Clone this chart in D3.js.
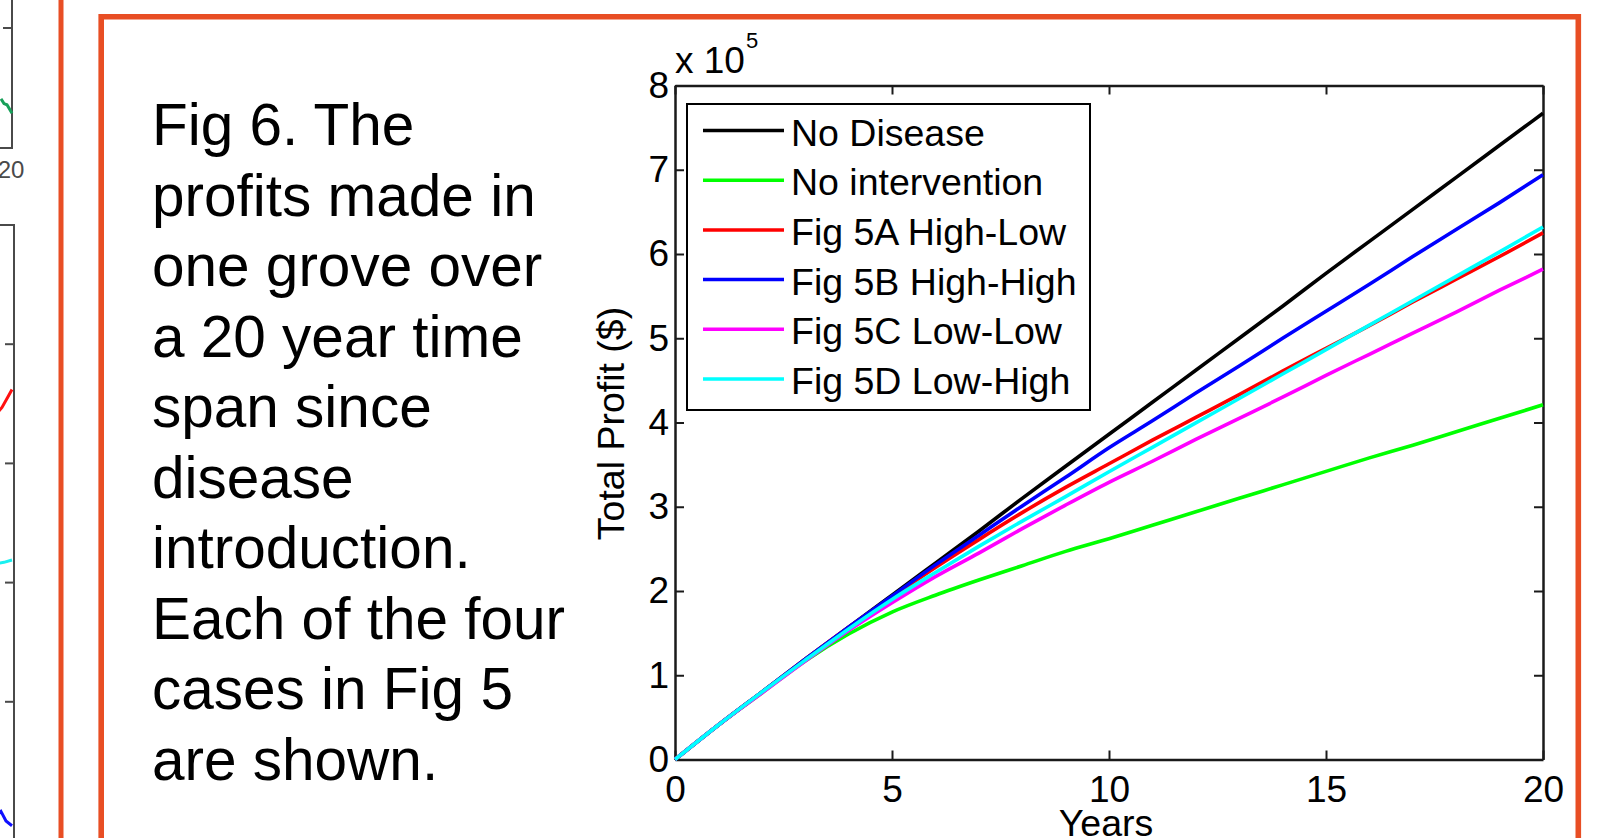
<!DOCTYPE html>
<html>
<head>
<meta charset="utf-8">
<script src="https://cdn.jsdelivr.net/npm/d3@7"></script>
<style>
  html, body { margin: 0; padding: 0; background: #fff; }
  svg { display: block; font-family: "Liberation Sans", Arial, Helvetica, sans-serif; }
</style>
</head>
<body>
<div id="chart"></div>
<script>
const W = 1605, H = 838;

// years since disease introduction
const years = d3.range(0, 21);

// total profit, in units of 1e5 $
const noDisease     = [0, 0.41, 0.80, 1.19, 1.57, 1.95, 2.33, 2.71, 3.10, 3.48, 3.86, 4.24, 4.62, 5.00, 5.38, 5.77, 6.15, 6.53, 6.91, 7.29, 7.67];
const noIntervention = [0, 0.41, 0.79, 1.17, 1.49, 1.75, 1.95, 2.13, 2.30, 2.47, 2.62, 2.78, 2.94, 3.10, 3.26, 3.42, 3.58, 3.73, 3.89, 4.05, 4.21];
const fig5A         = [0, 0.41, 0.80, 1.19, 1.57, 1.93, 2.28, 2.61, 2.93, 3.23, 3.51, 3.79, 4.06, 4.33, 4.61, 4.88, 5.15, 5.43, 5.70, 5.97, 6.25];
const fig5B         = [0, 0.41, 0.80, 1.19, 1.57, 1.94, 2.31, 2.66, 3.01, 3.35, 3.70, 4.02, 4.35, 4.67, 5.00, 5.32, 5.64, 5.97, 6.29, 6.61, 6.94];
const fig5C         = [0, 0.41, 0.79, 1.17, 1.53, 1.86, 2.17, 2.45, 2.74, 3.02, 3.29, 3.54, 3.80, 4.05, 4.30, 4.56, 4.81, 5.06, 5.31, 5.57, 5.82];
const fig5D         = [0, 0.41, 0.80, 1.18, 1.55, 1.90, 2.22, 2.53, 2.83, 3.12, 3.415, 3.705, 3.995, 4.285, 4.575, 4.865, 5.155, 5.445, 5.735, 6.025, 6.32];

const seriesNames  = ['No Disease', 'No intervention', 'Fig 5A High-Low', 'Fig 5B High-High', 'Fig 5C Low-Low', 'Fig 5D Low-High'];
const seriesValues = [noDisease, noIntervention, fig5A, fig5B, fig5C, fig5D];
const seriesColors = ['#000000', '#00ff00', '#ff0000', '#0000ff', '#ff00ff', '#00ffff'];

const xTicks = [0, 5, 10, 15, 20];
const yTicks = [0, 1, 2, 3, 4, 5, 6, 7, 8];

const caption = [
  'Fig 6. The', 'profits made in', 'one grove over', 'a 20 year time', 'span since',
  'disease', 'introduction.', 'Each of the four', 'cases in Fig 5', 'are shown.'
];

// bits of the neighbouring panels cut off at the left edge
const edgeTopGreen = [[19.45, 0.41], [19.6, 0.37], [19.75, 0.36], [20, 0.29]];
const edgeRed      = [[19.2, 3.41], [19.5, 3.47], [19.8, 3.56], [20, 3.62]];
const edgeCyan     = [[19.2, 2.16], [19.6, 2.17], [20, 2.19]];
const edgeBlue     = [[19.2, 0.04], [19.45, 0.08], [19.7, 0.0], [20, -0.04]];

const svg = d3.select('#chart').append('svg')
  .attr('width', W)
  .attr('height', H);

svg.append('rect').attr('width', W).attr('height', H).attr('fill', '#fff');

// neighbour panels
const edgeX = d3.scaleLinear().domain([0, 20]).range([-389, 12]);
const edgeTopY = d3.scaleLinear().domain([0, 1]).range([148, 28]);
const edgeY = d3.scaleLinear().domain([0, 5]).range([821, 225]);
const edgeLine = (ys) => d3.line().x(d => edgeX(d[0])).y(d => ys(d[1]));

const edge = svg.append('g').attr('stroke', '#4a4a4a').attr('stroke-width', 2).attr('fill', 'none');
edge.append('path').attr('d', `M0,${edgeTopY(0)}H${edgeX(20)}V0`);
edge.append('path').attr('d', `M${edgeX(20) - 9},${edgeTopY(1)}H${edgeX(20)}`);
edge.append('path').attr('d', `M0,${edgeY(5)}H${edgeX(20) + 2}V${H}`);
[1, 2, 3, 4].forEach(v => {
  edge.append('path').attr('d', `M${edgeX(20) - 7},${edgeY(v)}H${edgeX(20) + 2}`);
});
svg.append('text')
  .attr('x', 11).attr('y', 178)
  .attr('text-anchor', 'middle')
  .attr('font-size', 24)
  .attr('fill', '#4a4a4a')
  .text('20');

[[edgeTopGreen, edgeTopY, '#19a05a'], [edgeRed, edgeY, '#ff1010'], [edgeCyan, edgeY, '#19f0f0'], [edgeBlue, edgeY, '#1010ff']]
  .forEach(([data, ys, color]) => {
    svg.append('path')
      .datum(data)
      .attr('fill', 'none')
      .attr('stroke', color)
      .attr('stroke-width', 3)
      .attr('d', edgeLine(ys));
  });

// orange frames
const orange = '#e84e24';
svg.append('line')
  .attr('x1', 61).attr('x2', 61).attr('y1', 0).attr('y2', H)
  .attr('stroke', orange).attr('stroke-width', 5);
svg.append('path')
  .attr('d', `M101.2,${H + 10}V16.7H1578.3V${H + 10}`)
  .attr('fill', 'none')
  .attr('stroke', orange)
  .attr('stroke-width', 5.6);

// caption
svg.append('g')
  .selectAll('text')
  .data(caption)
  .join('text')
  .attr('x', 152)
  .attr('y', (d, i) => 145 + i * 70.5)
  .attr('font-size', 58.5)
  .attr('fill', '#000')
  .text(d => d);

// main plot
const plot = { left: 675, right: 1543, top: 85.5, bottom: 759.5 };
const x = d3.scaleLinear().domain([0, 20]).range([plot.left, plot.right]);
const y = d3.scaleLinear().domain([0, 8]).range([plot.bottom, plot.top]);

const axisColor = '#1a1a1a';
const styleAxis = g => {
  g.select('.domain').attr('stroke', axisColor).attr('stroke-width', 2.5);
  g.selectAll('.tick line').attr('stroke', axisColor).attr('stroke-width', 2);
  g.selectAll('.tick text').attr('fill', '#000').attr('font-size', 37).attr('font-family', null);
};

svg.append('g')
  .attr('transform', `translate(0,${plot.bottom})`)
  .call(d3.axisBottom(x).tickValues(xTicks).tickSize(-9).tickSizeOuter(0).tickPadding(16))
  .call(styleAxis);

svg.append('g')
  .attr('transform', `translate(0,${plot.top})`)
  .call(d3.axisTop(x).tickValues(xTicks).tickSize(-9).tickSizeOuter(0).tickFormat(''))
  .call(styleAxis);

svg.append('g')
  .attr('transform', `translate(${plot.left},0)`)
  .call(d3.axisLeft(y).tickValues(yTicks).tickSize(-9).tickSizeOuter(0).tickPadding(6))
  .call(styleAxis);

svg.append('g')
  .attr('transform', `translate(${plot.right},0)`)
  .call(d3.axisRight(y).tickValues(yTicks).tickSize(-9).tickSizeOuter(0).tickFormat(''))
  .call(styleAxis);

// exponent label
svg.append('text')
  .attr('x', plot.left).attr('y', 73)
  .attr('font-size', 37)
  .text('x 10');
svg.append('text')
  .attr('x', plot.left + 71).attr('y', 48)
  .attr('font-size', 22)
  .text('5');

// axis titles
svg.append('text')
  .attr('transform', `translate(623.5,${(plot.top + plot.bottom) / 2 + 1}) rotate(-90)`)
  .attr('text-anchor', 'middle')
  .attr('font-size', 37.5)
  .text('Total Profit ($)');

svg.append('text')
  .attr('x', (plot.left + plot.right) / 2 - 3)
  .attr('y', 836)
  .attr('text-anchor', 'middle')
  .attr('font-size', 37.5)
  .text('Years');

// lines
const line = d3.line()
  .x((d, i) => x(years[i]))
  .y(d => y(d))
  .curve(d3.curveMonotoneX);

svg.append('g')
  .attr('fill', 'none')
  .attr('stroke-width', 3.6)
  .selectAll('path')
  .data(seriesValues)
  .join('path')
  .attr('stroke', (d, i) => seriesColors[i])
  .attr('d', line);

// legend
const legend = svg.append('g');
legend.append('rect')
  .attr('x', 687).attr('y', 104)
  .attr('width', 403).attr('height', 306)
  .attr('fill', '#fff')
  .attr('stroke', '#000')
  .attr('stroke-width', 2);

const item = legend.selectAll('g.item')
  .data(seriesNames)
  .join('g')
  .attr('class', 'item')
  .attr('transform', (d, i) => `translate(0,${130.5 + i * 49.7})`);

item.append('line')
  .attr('x1', 703).attr('x2', 784)
  .attr('stroke', (d, i) => seriesColors[i])
  .attr('stroke-width', 3.5);

item.append('text')
  .attr('x', 791)
  .attr('y', 15)
  .attr('font-size', 37.5)
  .text(d => d);
</script>
</body>
</html>
